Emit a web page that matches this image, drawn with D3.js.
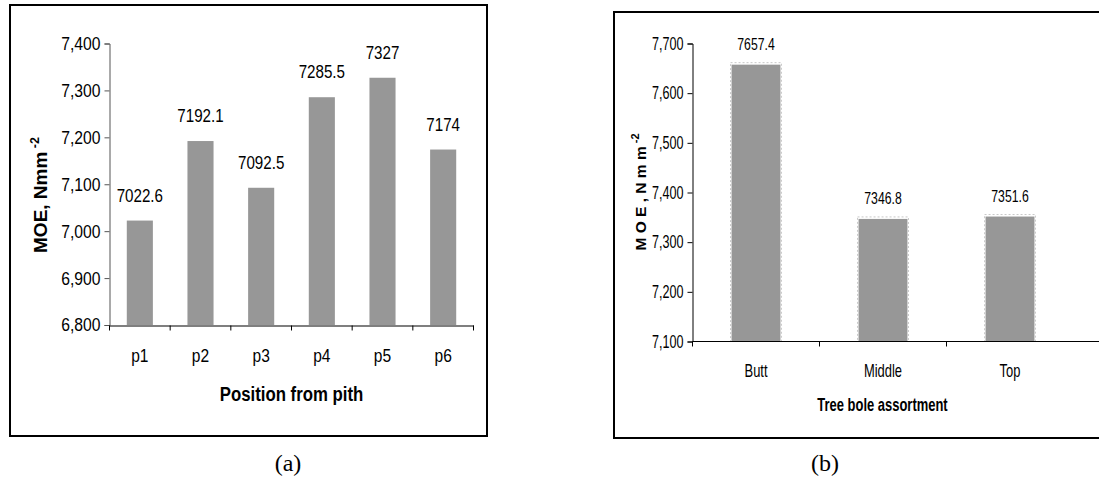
<!DOCTYPE html>
<html><head><meta charset="utf-8">
<script src="https://cdnjs.cloudflare.com/ajax/libs/d3/7.8.5/d3.min.js"></script>
<style>
html,body{margin:0;padding:0;background:#fff;}
svg{display:block;}
</style></head>
<body>
<svg id="chart" width="1099" height="479"></svg>
<script>
const catsA = ["p1","p2","p3","p4","p5","p6"];
const valsA = [7022.6, 7192.1, 7092.5, 7285.5, 7327, 7174];
const ticksA = [6800, 6900, 7000, 7100, 7200, 7300, 7400];
const catsB = ["Butt","Middle","Top"];
const valsB = [7657.4, 7346.8, 7351.6];
const ticksB = [7100, 7200, 7300, 7400, 7500, 7600, 7700];

const svg = d3.select("#chart");
const fmt = d3.format(",");
const REG = "'Liberation Sans',Arial,sans-serif";

// horizontally condense text (emulates Arial Narrow)
function narrow(sel, s){
  sel.each(function(){
    const t = d3.select(this);
    const x = +t.attr("x") || 0, y = +t.attr("y") || 0;
    const prev = t.attr("transform") || "";
    t.attr("x",0).attr("y",0).attr("transform", `${prev} translate(${x},${y}) scale(${s},1)`);
  });
}

// ---------- Panel (a) ----------
{
  svg.append("rect").attr("x",10).attr("y",5).attr("width",477).attr("height",431)
    .attr("fill","none").attr("stroke","#000").attr("stroke-width",2);
  const x = d3.scaleBand().domain(catsA).range([109.5,473.5]).paddingInner(0).paddingOuter(0);
  const y = d3.scaleLinear().domain([6800,7400]).range([325,43.5]);
  const g = svg.append("g");
  const bw = x.bandwidth()*0.43;
  g.selectAll("rect.bar").data(catsA).join("rect").attr("class","bar")
    .attr("x",d=>x(d)+x.bandwidth()/2-bw/2).attr("width",bw)
    .attr("y",(d,i)=>y(valsA[i])).attr("height",(d,i)=>y(6800)-y(valsA[i]))
    .attr("fill","#979797");
  const lb = g.selectAll("text.lbl").data(catsA).join("text").attr("class","lbl")
    .attr("x",d=>x(d)+x.bandwidth()/2).attr("y",(d,i)=>y(valsA[i])-19)
    .attr("text-anchor","middle").attr("font-family",REG).attr("font-size",18.5).attr("fill","#000")
    .text((d,i)=>String(valsA[i]));
  narrow(lb, 0.82);
  const ya = g.append("g").attr("transform","translate(109.5,0)")
    .call(d3.axisLeft(y).tickValues(ticksA).tickFormat(fmt).tickSize(5).tickPadding(4));
  ya.select(".domain").attr("stroke","#555");
  ya.selectAll(".tick line").attr("stroke","#555");
  ya.selectAll("text").attr("font-family",REG).attr("font-size",18.5).attr("fill","#000");
  narrow(ya.selectAll("text"), 0.85);
  const xa = g.append("g").attr("transform","translate(0,325.5)")
    .call(d3.axisBottom(x).tickSize(0).tickPadding(0).tickFormat(""));
  xa.select(".domain").attr("stroke","#000").attr("stroke-width",1.2);
  xa.selectAll(".tick").remove();
  xa.selectAll("line.bt").data([...catsA.map(c=>x(c)), x.range()[1]]).join("line").attr("class","bt")
    .attr("x1",d=>d).attr("x2",d=>d).attr("y1",0).attr("y2",5).attr("stroke","#000");
  const cl = g.selectAll("text.cat").data(catsA).join("text").attr("class","cat")
    .attr("x",d=>x(d)+x.bandwidth()/2).attr("y",362)
    .attr("text-anchor","middle").attr("font-family",REG).attr("font-size",19).text(d=>d);
  narrow(cl, 0.82);
  const xt = g.append("text").attr("x",291.5).attr("y",401).attr("text-anchor","middle")
    .attr("font-family",REG).attr("font-weight","bold").attr("font-size",21)
    .text("Position from pith");
  narrow(xt, 0.8);
  const yt = g.append("text").attr("transform","translate(47,195) rotate(-90)")
    .attr("text-anchor","middle").attr("font-family",REG).attr("font-weight","bold").attr("font-size",19);
  yt.append("tspan").text("MOE, Nmm");
  yt.append("tspan").attr("font-size",12.5).attr("dy",-8).text(" -2");
  svg.append("text").attr("x",288).attr("y",471).attr("text-anchor","middle")
    .attr("font-family","'Liberation Serif','Times New Roman',serif").attr("font-size",24).text("(a)");
}

// ---------- Panel (b) ----------
{
  svg.append("rect").attr("x",614).attr("y",12).attr("width",490).attr("height",426)
    .attr("fill","none").attr("stroke","#000").attr("stroke-width",2);
  const x = d3.scaleBand().domain(catsB).range([692.5,1073.5]);
  const y = d3.scaleLinear().domain([7100,7700]).range([341.5,43.5]);
  const g = svg.append("g");
  const bw = x.bandwidth()*0.385;
  g.selectAll("rect.bar").data(catsB).join("rect").attr("class","bar")
    .attr("x",d=>x(d)+x.bandwidth()/2-bw/2).attr("width",bw)
    .attr("y",(d,i)=>y(valsB[i])).attr("height",(d,i)=>y(7100)-y(valsB[i]))
    .attr("fill","#979797");
  g.selectAll("rect.bord").data(catsB).join("rect").attr("class","bord")
    .attr("x",d=>x(d)+x.bandwidth()/2-bw/2-1).attr("width",bw+2)
    .attr("y",(d,i)=>y(valsB[i])-2).attr("height",(d,i)=>y(7100)-y(valsB[i])+2)
    .attr("fill","none").attr("stroke","#c8c8c8").attr("stroke-width",1).attr("stroke-dasharray","2,2");
  const lb = g.selectAll("text.lbl").data(catsB).join("text").attr("class","lbl")
    .attr("x",d=>x(d)+x.bandwidth()/2).attr("y",(d,i)=>y(valsB[i])-15)
    .attr("text-anchor","middle").attr("font-family",REG).attr("font-size",17).attr("fill","#000")
    .text((d,i)=>String(valsB[i]));
  narrow(lb, 0.72);
  const ya = g.append("g").attr("transform","translate(692.5,0)")
    .call(d3.axisLeft(y).tickValues(ticksB).tickFormat(fmt).tickSize(5).tickPadding(4));
  ya.select(".domain").attr("stroke","#000");
  ya.selectAll("text").attr("font-family",REG).attr("font-size",17.5).attr("fill","#000");
  narrow(ya.selectAll("text"), 0.72);
  const xa = g.append("g").attr("transform","translate(0,341.5)")
    .call(d3.axisBottom(x).tickSize(0).tickFormat(""));
  xa.select(".domain").remove();
  xa.selectAll(".tick").remove();
  xa.append("line").attr("x1",692.5).attr("x2",1099).attr("y1",0).attr("y2",0).attr("stroke","#000").attr("stroke-width",1.2);
  xa.selectAll("line.bt").data(catsB.map(c=>x(c))).join("line").attr("class","bt")
    .attr("x1",d=>d).attr("x2",d=>d).attr("y1",0).attr("y2",5).attr("stroke","#000");
  const cl = g.selectAll("text.cat").data(catsB).join("text").attr("class","cat")
    .attr("x",d=>x(d)+x.bandwidth()/2).attr("y",376.5)
    .attr("text-anchor","middle").attr("font-family",REG).attr("font-size",17.5).text(d=>d);
  narrow(cl, 0.74);
  const xt = g.append("text").attr("x",882.5).attr("y",411).attr("text-anchor","middle")
    .attr("font-family",REG).attr("font-weight","bold").attr("font-size",18)
    .text("Tree bole assortment");
  narrow(xt, 0.72);
  const yt = g.append("text").attr("transform","translate(646,192) rotate(-90)")
    .attr("text-anchor","middle").attr("font-family",REG).attr("font-weight","bold").attr("font-size",15.5);
  yt.append("tspan").text("M O E ,  N m m");
  yt.append("tspan").attr("font-size",11).attr("dy",-7).text(" -2");
  svg.append("text").attr("x",825).attr("y",471).attr("text-anchor","middle")
    .attr("font-family","'Liberation Serif','Times New Roman',serif").attr("font-size",24).text("(b)");
}
</script>
</body></html>
